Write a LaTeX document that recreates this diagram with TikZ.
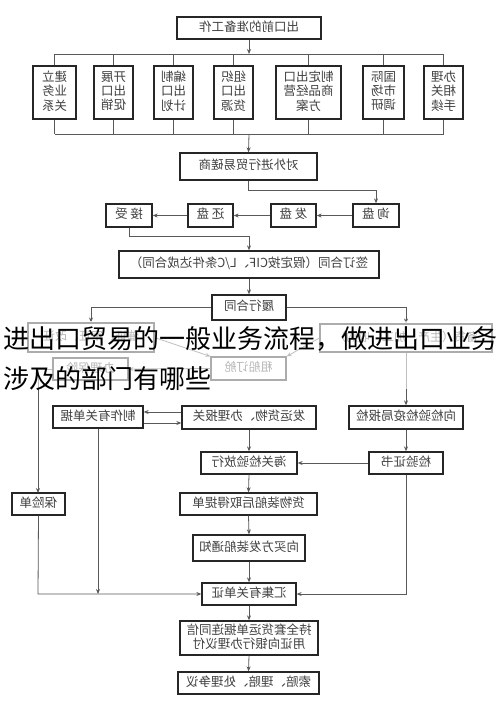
\documentclass[tikz,border=0pt]{standalone}
\usepackage{fontspec}
\setmainfont{Noto Sans CJK SC}
\usepackage{graphicx}
\usetikzlibrary{arrows.meta}
\newcommand{\mr}[1]{\reflectbox{\begin{tabular}{@{}c@{}}#1\end{tabular}}}
\begin{document}
\begin{tikzpicture}[x=1pt,y=-1pt,
  box/.style={draw=black!85, line width=1.3pt, fill=white, inner sep=0pt,
    text=black!75, font=\fontsize{12.5}{13}\selectfont},
  fbox/.style={draw=black!85, line width=1.1pt, fill=white, inner sep=0pt,
    text=black!75, font=\fontsize{12}{13}\selectfont},
  ln/.style={draw=black!65, line width=0.8pt},
  ar/.style={ln, -{Stealth[length=5pt,width=4pt]}},
  overlay text/.style={font=\fontsize{26}{30}\selectfont, text=black, inner sep=0pt, anchor=base west}
]
\useasboundingbox (0,0) rectangle (500,701);
\fill[white] (0,0) rectangle (500,701);

% top section
\node[box, minimum width=144, minimum height=22] (top) at (249,28) {\mr{出口前的准备工作}};
\node[box, minimum width=43, minimum height=53] (b1) at (54.5,92.5) {\mr{建立\\业务\\关系}};
\node[box, minimum width=39, minimum height=53] (b2) at (113.5,92.5) {\mr{开展\\出口\\促销}};
\node[box, minimum width=39, minimum height=53] (b3) at (173.5,92.5) {\mr{编制\\出口\\计划}};
\node[box, minimum width=39, minimum height=53] (b4) at (233.5,92.5) {\mr{组织\\出口\\货源}};
\node[box, minimum width=65, minimum height=53] (b5) at (308.5,92.5) {\mr{制定出口\\商品经营\\方案}};
\node[box, minimum width=41, minimum height=53] (b6) at (383.5,92.5) {\mr{国际\\市场\\调研}};
\node[box, minimum width=39, minimum height=53] (b7) at (443.5,92.5) {\mr{办理\\相关\\手续}};
\coordinate (busT) at (249,54);
\coordinate (busB) at (249,134);
\draw[ln] (b1.north |- busT) -- (b7.north |- busT);
\draw[ln] (b1.south |- busB) -- (b7.south |- busB);
\foreach \b in {b1,b2,b3,b4,b5,b6,b7}{
  \draw[ln] (\b.north) -- (\b.north |- busT);
  \draw[ln] (\b.south) -- (\b.south |- busB);
}
\draw[ar] (top.south) -- (busT);

\node[box, minimum width=137, minimum height=27] (cs) at (248.5,166.5) {\mr{对外进行贸易磋商}};
\draw[ar] (busB) -- (cs.north);

\node[box, minimum width=46, minimum height=23] (xp) at (376,215.5) {\mr{询\ 盘}};
\node[box, minimum width=45, minimum height=23] (fp) at (293.5,215.5) {\mr{发\ 盘}};
\node[box, minimum width=45, minimum height=23] (hp) at (210.5,215.5) {\mr{还\ 盘}};
\node[box, minimum width=46, minimum height=23] (js) at (129,215.5) {\mr{接\ 受}};
\draw[ar] (cs.south) -- (248.5,190) -| (xp.north);
\draw[ar] (xp.west) -- (fp.east);
\draw[ar] (fp.west) -- (hp.east);
\draw[ar] (hp.west) -- (js.east);

\node[box, minimum width=260, minimum height=27] (qd) at (249,264.5) {\mr{签订合同（假定按CIF、L/C条件达成合同）}};
\draw[ar] (js.south) -- (129,236) -| (qd.north);

\node[box, minimum width=74, minimum height=25] (lx) at (249,307.5) {\mr{履行合同}};
\draw[ar] (qd.south) -- (lx.north);

% faded section (behind overlay)
\node[fbox, minimum width=126, minimum height=29] (cz) at (91,337.5) {\mr{催证、审证、改证}};
\node[fbox, minimum width=172, minimum height=28] (bh) at (406,338) {\mr{备货（生产、加工、收购）}};
\node[fbox, minimum width=75, minimum height=23] (zc) at (248.5,368.5) {\mr{租船订舱}};
\node[fbox, minimum width=75, minimum height=22] (bx) at (90.5,369) {\mr{办理保险}};
\draw[ar] (lx.west) -| (cz.north);
\draw[ar] (lx.east) -| (bh.north);
\draw[ar] (cz.east) -- (zc.north west);
\draw[ar] (bh.west) -- (zc.north east);
\draw[ar] (zc.west) -- (bx.east);

% lower section
\node[box, minimum width=53, minimum height=22] (bxd) at (38.5,504) {\mr{保险单}};
\node[box, minimum width=90, minimum height=22] (zz) at (98,417) {\mr{制作有关单据}};
\node[box, minimum width=134, minimum height=23] (fy) at (249,417.5) {\mr{发运货物、办理报关}};
\node[box, minimum width=114, minimum height=23] (bj) at (406,417.5) {\mr{向检验检疫局报检}};
\node[box, minimum width=96, minimum height=22] (hg) at (249,463) {\mr{海关检验放行}};
\node[box, minimum width=74, minimum height=22] (zs) at (406,463) {\mr{检验证书}};
\node[box, minimum width=137, minimum height=22] (td) at (248.5,504) {\mr{货物装船后取得提单}};
\node[box, minimum width=112, minimum height=26] (tz) at (249,548) {\mr{向买方发装船通知}};
\node[box, minimum width=94, minimum height=22] (hj) at (249,594) {\mr{汇集有关单证}};
\node[box, minimum width=138, minimum height=34] (yf) at (249,638) {\mr{持全套货运单据连同信\\用证向银行办理议付}};
\node[box, minimum width=141, minimum height=22] (sp) at (248.5,683) {\mr{索赔、理赔、处理争议}};

\draw[ln] (bx.west) -- (38,369);
\draw[ar] (38,369) -- (38,493);
\draw[ar] (bh.south) -- (bj.north);
\draw[ar] (fy.west |- 0,412) -- (zz.east |- 0,412);
\draw[ar] (zz.east |- 0,423) -- (fy.west |- 0,423);
\draw[ar] (fy.south) -- (hg.north);
\draw[ar] (bj.south) -- (zs.north);
\draw[ar] (zs.west) -- (hg.east);
\draw[ar] (hg.south) -- (td.north);
\draw[ar] (td.south) -- (tz.north);
\draw[ar] (tz.south) -- (hj.north);
\draw[ar] (bxd.south) -- (38,594) -- (hj.west);
\draw[ar] (zz.south) -- (98,594);
\draw[ar] (zs.south) -- (406,594) -- (hj.east);
\draw[ar] (hj.south) -- (yf.north);
\draw[ar] (yf.south) -- (sp.north);

% translucent band and overlay caption
\fill[white, opacity=0.62] (0,321) rectangle (500,389);
\node[overlay text] (cap1) at (3,348) {进出口贸易的一般业务流程，做进出口业务};
\node[overlay text] (cap2) at (3,388) {涉及的部门有哪些};
\end{tikzpicture}
\end{document}
